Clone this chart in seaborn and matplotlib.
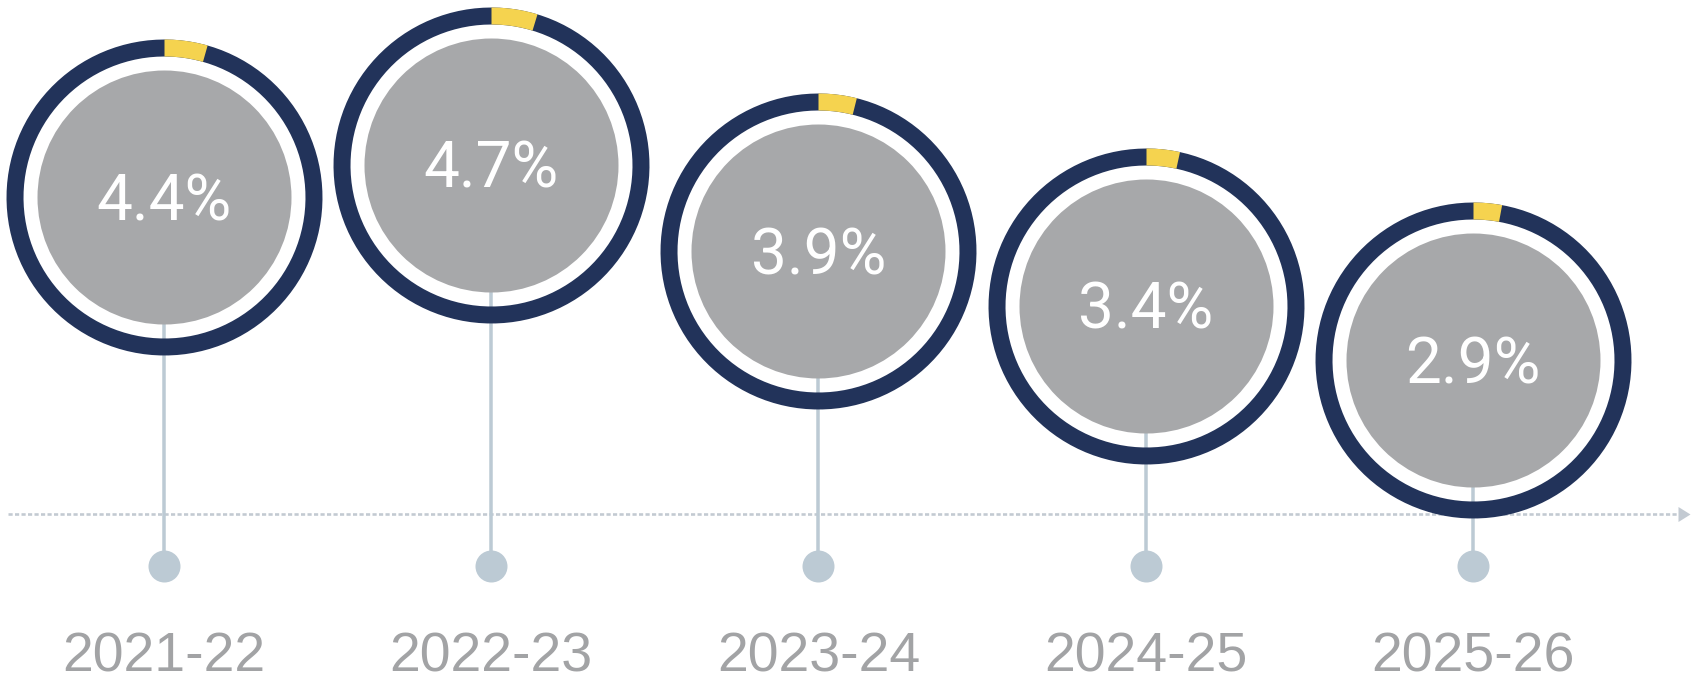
import numpy as np
import pandas as pd
import matplotlib
matplotlib.use('Agg')
import matplotlib.pyplot as plt
from matplotlib.path import Path
import seaborn as sns

# Data
years = ['2021-22', '2022-23', '2023-24', '2024-25', '2025-26']
growth = [4.4, 4.7, 3.9, 3.4, 2.9]
labels = ['4.4%', '4.7%', '3.9%', '3.4%', '2.9%']

df = pd.DataFrame({'year': years, 'growth': growth, 'pos': np.arange(len(years))})

# Layout (figure in pixels, data limits chosen so circles sit like the original)
W, H = 1696, 684
X_LIM = (-0.501, 4.6815)
Y_LIM = (-0.083, 6.215)
PT = 72 / 100  # pixels -> points at dpi 100
R_OUT, R_IN, R_DISC = 158, 141, 127  # ring and disc radii in pixels


def py(p):  # pixel row -> data y
    return Y_LIM[1] - p / H * (Y_LIM[1] - Y_LIM[0])


def px(p):  # pixel column -> data x
    return X_LIM[0] + p / W * (X_LIM[1] - X_LIM[0])


def arc_marker(pct, inner=R_IN / R_OUT, n=120):
    # annular sector starting at 12 o'clock, going clockwise
    theta = np.radians(90 - np.linspace(0, pct / 100 * 360, n))
    outer = np.column_stack([np.cos(theta), np.sin(theta)])
    if pct >= 100:
        verts = np.vstack([outer, outer[:1], inner * outer[::-1], inner * outer[-1:]])
        codes = ([Path.MOVETO] + [Path.LINETO] * (n - 1) + [Path.CLOSEPOLY]) * 2
        return Path(verts, codes)
    verts = np.vstack([outer, inner * outer[::-1], outer[:1]])
    codes = [Path.MOVETO] + [Path.LINETO] * (len(verts) - 2) + [Path.CLOSEPOLY]
    return Path(verts, codes)


navy = '#22335a'
yellow = '#f5d34f'
grey = '#a7a8aa'
stem = '#bccad4'
line_c = '#c3cad2'

sns.set_style('white')
fig = plt.figure(figsize=(W / 100, H / 100), dpi=100)
ax = fig.add_axes([0, 0, 1, 1])
ax.set_xlim(*X_LIM)
ax.set_ylim(*Y_LIM)
ax.set_axis_off()

# dotted timeline with arrow head
axis_y = py(514)
ax.plot([px(8), px(1680)], [axis_y, axis_y], color=line_c, lw=2.6 * PT,
        ls=(0, (1.6, 0.9)), solid_capstyle='butt', zorder=1)
head = Path([(-1.6, 1), (0, 0), (-1.6, -1), (-1.6, 1)],
            [Path.MOVETO, Path.LINETO, Path.LINETO, Path.CLOSEPOLY])
ax.scatter([px(1690)], [axis_y], marker=head, s=(24 * PT) ** 2,
           color=line_c, linewidths=0, zorder=1)

# stems and dots
dot_y = py(566)
ax.vlines(df['pos'], dot_y, df['growth'], color=stem, lw=3.5 * PT, zorder=2)
sns.scatterplot(x=df['pos'], y=[dot_y] * len(df), s=(32 * PT) ** 2, color=stem,
                linewidth=0, zorder=2, legend=False, ax=ax)

# grey discs, navy rings, yellow share
sns.scatterplot(data=df, x='pos', y='growth', s=(2 * R_DISC * PT) ** 2, color=grey,
                linewidth=0, zorder=3, legend=False, ax=ax, clip_on=False)
ax.scatter(df['pos'], df['growth'], marker=arc_marker(100), s=(2 * R_OUT * PT) ** 2,
           color=navy, linewidths=0, zorder=4, clip_on=False)
for i, row in df.iterrows():
    ax.scatter([row['pos']], [row['growth']], marker=arc_marker(row['growth']),
               s=(2 * R_OUT * PT) ** 2, color=yellow, linewidths=0, zorder=5, clip_on=False)
    ax.annotate(labels[i], (row['pos'], row['growth']), xytext=(0, -23 * PT),
                textcoords='offset points', ha='center', va='baseline',
                color='white', fontsize=46, family='Roboto', zorder=6)
    ax.text(row['pos'], py(671), row['year'], ha='center', va='baseline',
            color='#a2a3a5', fontsize=40, family='Liberation Sans')

ax.set_xlabel('')
ax.set_ylabel('')

fig.savefig('out.png', dpi=100)
